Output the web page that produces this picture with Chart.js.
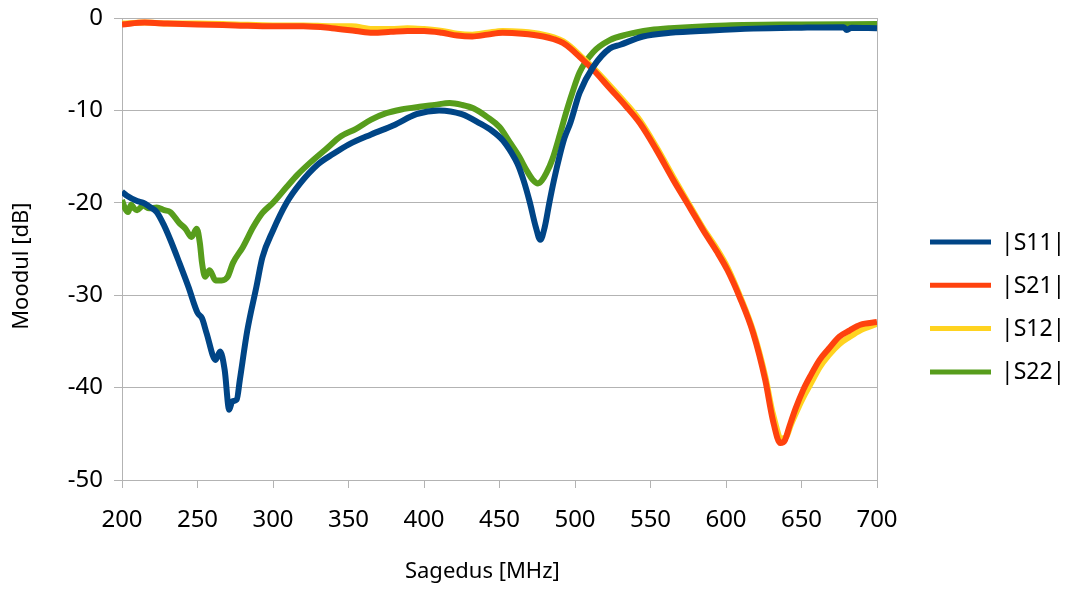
<!DOCTYPE html>
<html>
<head>
<meta charset="utf-8">
<script src="https://cdn.jsdelivr.net/npm/chart.js@4"></script>
<style>
  body { margin: 0; background: #fff; }
  canvas { display: block; }
</style>
</head>
<body>
<canvas id="myChart" width="1073" height="590"></canvas>
<script>
// |S11|
const s11Freq = [200, 203, 210, 214, 218, 223, 228, 232, 238, 244, 250, 253, 256, 262, 265, 268, 271, 273, 276, 278, 283, 289, 293, 300, 309, 318, 330, 340, 350, 365, 380, 395, 410, 425, 437, 445, 452, 458, 462, 466, 470, 474, 477, 480, 483, 486, 490, 493, 497, 503, 512, 523, 530, 545, 563, 590, 618, 650, 678, 680, 683, 700];
const s11Db = [-18.8, -19.2, -19.8, -20.0, -20.4, -21.0, -22.5, -24.0, -26.5, -29.1, -31.9, -32.5, -34.1, -37.0, -36.1, -38.1, -42.4, -41.5, -41.3, -39.2, -33.8, -29.1, -25.9, -23.0, -20.0, -17.9, -15.8, -14.7, -13.7, -12.6, -11.6, -10.4, -10.0, -10.4, -11.4, -12.2, -13.2, -14.6, -15.8, -17.6, -19.9, -22.6, -24.0, -22.6, -20.0, -17.6, -14.8, -13.0, -11.3, -8.1, -5.3, -3.3, -2.9, -2.0, -1.6, -1.35, -1.15, -1.05, -1.0, -1.3, -1.05, -1.1];

// |S21|
const s21Freq = [200, 215, 230, 250, 275, 300, 320, 339, 355, 366, 378, 389, 400, 412, 422, 432, 442, 452, 465, 479, 486, 492, 497, 503, 512, 523, 534, 543, 554, 565, 576, 585, 594, 601, 609, 618, 626, 631, 636, 639, 642, 646, 651, 656, 662, 668, 675, 682, 689, 700];
const s21Db = [-0.7, -0.5, -0.6, -0.7, -0.8, -0.9, -0.9, -1.1, -1.4, -1.6, -1.5, -1.4, -1.4, -1.6, -1.9, -2.0, -1.8, -1.6, -1.7, -2.0, -2.3, -2.7, -3.3, -4.2, -5.6, -7.6, -9.6, -11.4, -14.3, -17.5, -20.5, -23.0, -25.3, -27.3, -30.2, -34.1, -39.2, -43.5, -46.0, -45.7, -44.2, -42.3, -40.3, -38.7, -37.0, -35.8, -34.5, -33.8, -33.2, -32.9];

// |S12|
const s12Freq = [200, 215, 230, 250, 275, 300, 320, 339, 352, 366, 378, 389, 400, 412, 422, 432, 442, 452, 465, 479, 486, 492, 497, 503, 512, 523, 534, 543, 554, 565, 576, 585, 594, 601, 609, 618, 626, 631, 637, 640, 643, 647, 652, 657, 662, 668, 675, 682, 689, 700];
const s12Db = [-0.6, -0.5, -0.6, -0.6, -0.7, -0.8, -0.8, -0.9, -0.9, -1.2, -1.2, -1.1, -1.2, -1.4, -1.7, -1.8, -1.6, -1.4, -1.5, -1.8, -2.1, -2.5, -3.1, -4.0, -5.4, -7.3, -9.3, -11.1, -14.0, -17.2, -20.3, -22.8, -25.0, -27.0, -30.0, -33.9, -38.8, -42.8, -45.5, -45.3, -44.0, -42.5, -40.8, -39.3, -37.8, -36.5, -35.3, -34.5, -33.8, -33.1];

// |S22|
const s22Freq = [200, 202, 204, 206, 208, 210, 214, 218, 223, 228, 232, 238, 242, 246, 249.5, 251.6, 253, 255, 258, 262, 266, 270, 273.5, 280, 287, 293, 300, 309, 316, 325, 335, 345, 355, 365, 375, 385, 397, 407, 417, 425, 433, 441.7, 450, 457, 463, 468, 472, 475.5, 478, 481, 485, 490, 494, 498, 503, 512, 523, 534, 550, 563, 600, 650, 700];
const s22Db = [-19.7, -20.6, -21.0, -20.2, -20.6, -20.8, -20.3, -20.6, -20.5, -20.8, -21.0, -22.2, -22.8, -23.7, -22.8, -24.4, -26.5, -28.0, -27.3, -28.4, -28.4, -28.0, -26.5, -24.8, -22.6, -21.1, -20.0, -18.3, -17.0, -15.6, -14.2, -12.8, -12.0, -11.0, -10.3, -9.9, -9.6, -9.4, -9.2, -9.4, -9.8, -10.7, -11.8, -13.5, -15.0, -16.5, -17.5, -17.9, -17.6, -16.8, -15.3, -12.6, -10.3, -8.2, -5.9, -3.7, -2.4, -1.8, -1.3, -1.1, -0.8, -0.7, -0.65];

const xTicks = [200, 250, 300, 350, 400, 450, 500, 550, 600, 650, 700];
const yTicks = [0, -10, -20, -30, -40, -50];

const series = [
    { label: '|S11|', freq: s11Freq, db: s11Db, color: '#004586' },
    { label: '|S21|', freq: s21Freq, db: s21Db, color: '#ff420e' },
    { label: '|S12|', freq: s12Freq, db: s12Db, color: '#ffd320' },
    { label: '|S22|', freq: s22Freq, db: s22Db, color: '#579d1c' }
];

const FONT = '"Noto Sans", "Open Sans", sans-serif';
const GRID = '#b3b3b3';

// legend to the right of the plot, drawn from the dataset list
const sideLegend = {
    id: 'sideLegend',
    afterDraw(chart) {
        const ctx = chart.ctx;
        ctx.save();
        chart.data.datasets.forEach((ds, i) => {
            const y = 242 + i * 43.3;
            ctx.strokeStyle = ds.borderColor;
            ctx.lineWidth = 5;
            ctx.beginPath();
            ctx.moveTo(930, y);
            ctx.lineTo(991, y);
            ctx.stroke();
            ctx.fillStyle = '#000';
            ctx.font = '23px ' + FONT;
            ctx.textBaseline = 'middle';
            ctx.textAlign = 'left';
            ctx.fillText(ds.label, 1001, y + 1);
        });
        ctx.restore();
    }
};

const chartData = {
    datasets: series.map((s) => ({
        label: s.label,
        data: s.freq.map((f, i) => ({ x: f, y: s.db[i] })),
        borderColor: s.color,
        backgroundColor: s.color,
        borderWidth: 6,
        pointRadius: 0,
        cubicInterpolationMode: 'monotone',
        fill: false
    }))
};

const config = {
    type: 'line',
    data: chartData,
    options: {
        responsive: false,
        animation: false,
        devicePixelRatio: 1,
        layout: { padding: { top: 18, right: 196, bottom: 0, left: 0 } },
        plugins: {
            legend: { display: false },
            tooltip: { enabled: false }
        },
        scales: {
            x: {
                type: 'linear',
                min: 200,
                max: 700,
                afterBuildTicks: (s) => { s.ticks = xTicks.map((v) => ({ value: v })); },
                afterFit: (s) => { s.height = 110; },
                ticks: {
                    color: '#000',
                    font: { family: FONT, size: 24 },
                    padding: 18
                },
                grid: {
                    color: (c) => (c.tick && c.tick.value === 700 ? GRID : 'rgba(0,0,0,0)'),
                    tickColor: GRID,
                    tickLength: 8,
                    lineWidth: 1
                },
                border: { color: GRID },
                title: {
                    display: true,
                    text: 'Sagedus [MHz]      ',
                    color: '#000',
                    font: { family: FONT, size: 22 },
                    padding: { top: 0, bottom: 5 }
                }
            },
            y: {
                min: -50,
                max: 0,
                afterBuildTicks: (s) => { s.ticks = yTicks.map((v) => ({ value: v })); },
                afterFit: (s) => { s.width = 122; s.paddingTop = 0; s.paddingBottom = 0; },
                ticks: {
                    color: '#000',
                    font: { family: FONT, size: 24, lineHeight: 1 },
                    padding: 11
                },
                grid: {
                    color: GRID,
                    tickColor: GRID,
                    tickLength: 8,
                    lineWidth: 1
                },
                border: { color: GRID },
                title: {
                    display: true,
                    text: 'Moodul [dB]      ',
                    color: '#000',
                    font: { family: FONT, size: 22 },
                    padding: { top: 9, bottom: 0 }
                }
            }
        }
    },
    plugins: [sideLegend]
};

const myChart = new Chart(document.getElementById('myChart'), config);
</script>
</body>
</html>
